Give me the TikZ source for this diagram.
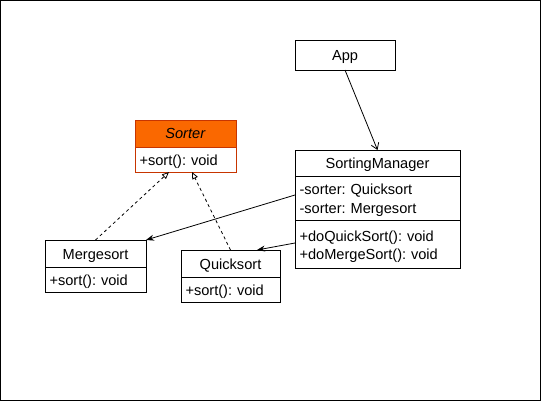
\documentclass[tikz,border=0pt]{standalone}
\usepackage{fontspec}
\setmainfont{Liberation Sans}
\usetikzlibrary{arrows.meta}
\definecolor{orfill}{HTML}{FA6800}
\definecolor{orline}{HTML}{C73500}
\begin{document}
\frenchspacing
\begin{tikzpicture}[x=1pt,y=-1pt,
  font=\fontsize{14.6}{17}\selectfont,
  cell/.style={draw, line width=0.9pt, inner xsep=4.5pt, inner ysep=0pt, outer sep=0pt, anchor=north west},
  oneline/.style={text height=13pt, text depth=2pt},
  head/.style={cell, oneline, minimum width=#1, align=center},
  body/.style={cell, text width=#1-9pt, align=left},
  assoc/.style={line width=0.8pt, -{Stealth[length=8pt,width=6pt]}},
  realize/.style={line width=0.8pt, dash pattern=on 3pt off 3pt, -{Triangle[open,length=7pt,width=6pt,fill=white]}},
  call/.style={line width=0.8pt, -{Straight Barb[length=6pt,width=8pt]}}]
\useasboundingbox (0,0) rectangle (541,401);
\draw[line width=1.4pt] (0.7,0.7) rectangle (540.3,400.3);

% App
\node[head=100pt, minimum height=30pt] (app) at (295,40) {App};

% Sorter
\node[head=101pt, minimum height=27pt, fill=orfill, draw=orline] (sorterH) at (135,120) {\textit{Sorter}};
\node[body=101pt, oneline, minimum height=25pt, draw=orline] (sorterB) at (135,147) {+sort(): void};

% SortingManager
\node[head=165pt, minimum height=26pt] (smH) at (295,150) {SortingManager};
\node[body=165pt, minimum height=44pt, text height=13.5pt, text depth=20pt, font=\fontsize{14.6}{19}\selectfont] (smA) at (295,176) {-sorter: Quicksort\\-sorter: Mergesort};
\node[body=165pt, minimum height=48pt, text height=13.5pt, text depth=18.5pt, font=\fontsize{14.6}{17.5}\selectfont] (smM) at (295,220) {+doQuickSort(): void\\+doMergeSort(): void};

% Mergesort
\node[head=101pt, minimum height=27pt] (mH) at (45,240) {Mergesort};
\node[body=101pt, oneline, minimum height=25pt] (mB) at (45,267) {+sort(): void};

% Quicksort
\node[head=99pt, minimum height=27pt] (qH) at (181,250) {Quicksort};
\node[body=99pt, oneline, minimum height=25pt] (qB) at (181,277) {+sort(): void};

% anchor points
\coordinate (sorterL) at (169,172);
\coordinate (sorterR) at (192,172);
\coordinate (qTop) at (257,250);
\coordinate (smL1) at (295,195);
\coordinate (smL2) at (295,243);

% connectors
\draw[call] (app.south) -- (smH.north);
\draw[assoc] (smL1) -- (mH.north east);
\draw[assoc] (smL2) -- (qTop);
\draw[realize] (mH.north) -- (sorterL);
\draw[realize] (qH.north) -- (sorterR);
\end{tikzpicture}
\end{document}
